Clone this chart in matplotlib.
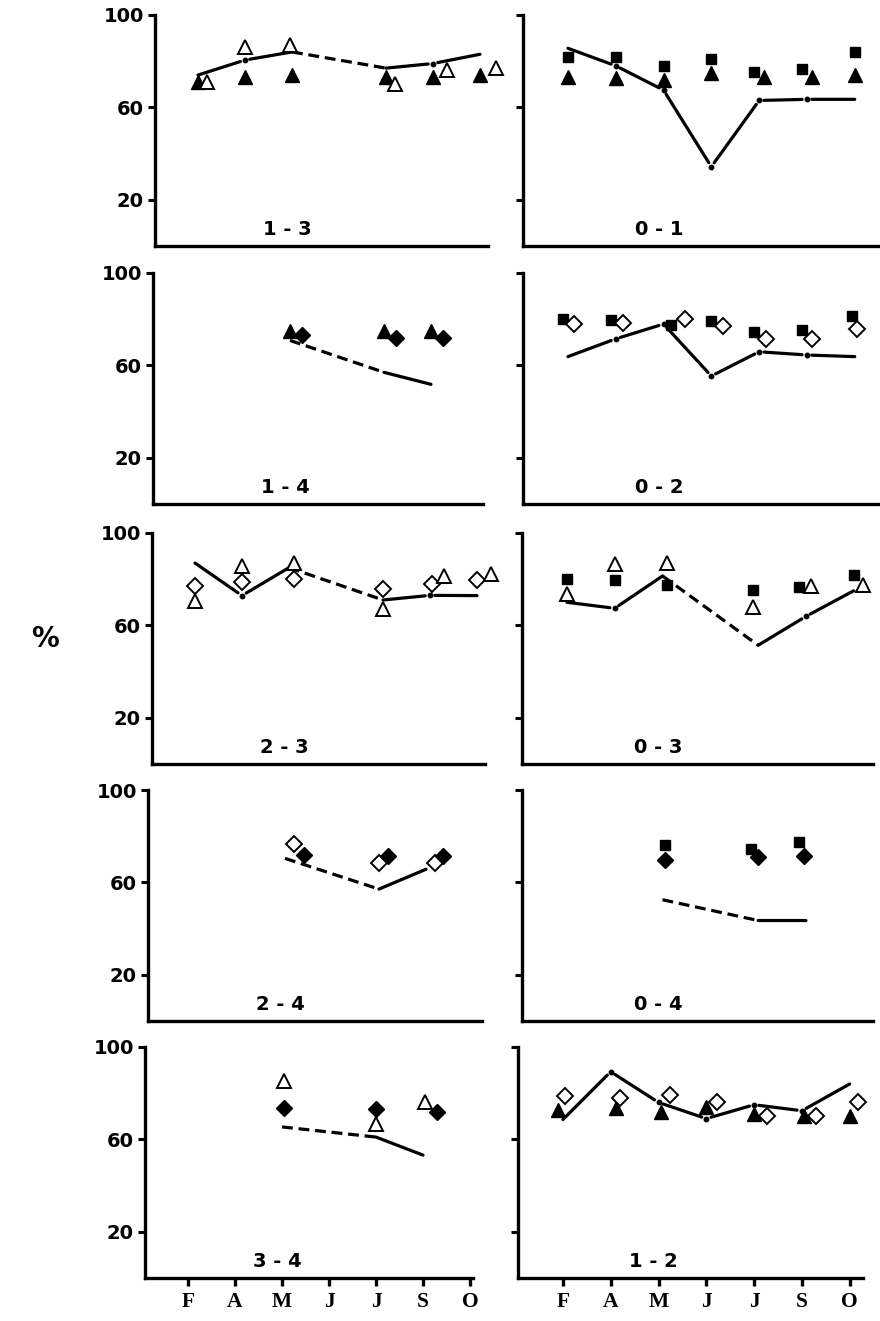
import numpy as np
import matplotlib.pyplot as plt

nan = np.nan
months = ['F', 'A', 'M', 'J', 'J', 'S', 'O']

# ---- 1 - 3 ----
l13 = [74, 80.5, 84, nan, 77, 79, 83]
seg13 = ['-', '-', '--', '-', '-']
ft13_x = [0, 1, 2, 4, 5, 6]
ft13_y = [71, 73, 74, 73, 73, 74]
ot13_x = [0.2, 1, 1.95, 4.2, 5.3, 6.35]
ot13_y = [71, 86, 87, 70, 76, 77]

# ---- 0 - 1 ----
l01 = [85.6, 78, 67.5, 34.3, 63, 63.5, 63.5]
seg01 = ['-', '-', '-', '-', '-', '-']
fs01_x = [0, 1, 2, 3, 3.9, 4.9, 6]
fs01_y = [82, 82, 78, 81, 75.5, 76.6, 84]
ft01_x = [0, 1, 2, 3, 4.1, 5.1, 6]
ft01_y = [73, 72.6, 72, 74.7, 73, 73.3, 74]

# ---- 1 - 4 ----
l14 = [nan, nan, 70.8, nan, 57, 51.8, nan]
seg14 = ['--', '-']
ft14_x = [2, 4, 5]
ft14_y = [75, 75, 75]
fd14_x = [2.25, 4.25, 5.25]
fd14_y = [73, 72, 72]

# ---- 0 - 2 ----
l02 = [63.8, 71.5, 77.9, 55.4, 65.9, 64.5, 63.8]
seg02 = ['-', '-', '-', '-', '-', '-']
fs02_x = [-0.1, 0.9, 2.15, 3.0, 3.9, 4.9, 5.95]
fs02_y = [80, 79.7, 77.6, 79.3, 74.6, 75.5, 81.4]
od02_x = [0.12, 1.15, 2.45, 3.25, 4.15, 5.1, 6.05]
od02_y = [77.9, 78.3, 80, 77.2, 71.3, 71.5, 75.8]

# ---- 2 - 3 ----
l23 = [87, 72.9, 85, nan, 71, 73, 72.9]
seg23 = ['-', '-', '--', '-', '-']
od23_x = [0, 1, 2.1, 4, 5.05, 6]
od23_y = [77, 78.6, 80, 75.7, 77.9, 79.6]
ot23_x = [0, 1, 2.1, 4, 5.3, 6.3]
ot23_y = [70.7, 85.7, 87, 67, 81.4, 82.4]

# ---- 0 - 3 ----
l03 = [70, 67.4, 81.4, nan, 51.4, 63.9, 75]
seg03 = ['-', '-', '--', '-', '-']
fs03_x = [0, 1, 2.1, 3.9, 4.85, 6]
fs03_y = [80, 79.6, 77.6, 75.3, 76.7, 81.9]
ot03_x = [0, 1, 2.1, 3.9, 5.1, 6.2]
ot03_y = [73.6, 86.4, 87, 68, 77, 77.6]

# ---- 2 - 4 ----
l24 = [nan, nan, 70.4, nan, 57.1, 65.7, nan]
seg24 = ['--', '-']
od24_x = [2.2, 4.0, 5.2]
od24_y = [76.7, 68.6, 68.6]
fd24_x = [2.4, 4.2, 5.37]
fd24_y = [72, 71.4, 71.4]

# ---- 0 - 4 ----
l04 = [nan, nan, 52.5, nan, 43.5, 43.5, nan]
seg04 = ['--', '-']
fs04_x = [2.05, 3.85, 4.85]
fs04_y = [76.2, 74.5, 77.3]
fd04_x = [2.05, 4.0, 4.95]
fd04_y = [69.5, 70.9, 71.3]

# ---- 3 - 4 ----
l34 = [nan, nan, 65.4, nan, 61, 53.2, nan]
seg34 = ['--', '-']
ot34_x = [2.05, 4.0, 5.05]
ot34_y = [85.4, 66.5, 76]
fd34_x = [2.05, 4.0, 5.3]
fd34_y = [73.5, 73, 72]

# ---- 1 - 2 ----
l12 = [68.6, 89.3, 76, 69, 75, 72.4, 84]
seg12 = ['-', '-', '-', '-', '-', '-']
ft12_x = [-0.1, 1.1, 2.05, 3.0, 4.0, 5.05, 6.0]
ft12_y = [72.9, 73.6, 71.9, 73.9, 71, 70, 70]
od12_x = [0.05, 1.2, 2.25, 3.23, 4.27, 5.3, 6.18]
od12_y = [78.6, 77.9, 79.3, 76, 70, 70, 76.4]

MARK = {
    'ft': dict(marker='^', mfc='black', mec='black', ms=9.5, mew=1.0),
    'ot': dict(marker='^', mfc='white', mec='black', ms=9.5, mew=1.4),
    'fs': dict(marker='s', mfc='black', mec='black', ms=7.5, mew=1.0),
    'od': dict(marker='D', mfc='white', mec='black', ms=8, mew=1.4),
    'fd': dict(marker='D', mfc='black', mec='black', ms=8, mew=1.0),
}

panels = [
    (0, 0, '1 - 3', l13, seg13, [('ft', ft13_x, ft13_y), ('ot', ot13_x, ot13_y)]),
    (0, 1, '0 - 1', l01, seg01, [('fs', fs01_x, fs01_y), ('ft', ft01_x, ft01_y)]),
    (1, 0, '1 - 4', l14, seg14, [('ft', ft14_x, ft14_y), ('fd', fd14_x, fd14_y)]),
    (1, 1, '0 - 2', l02, seg02, [('fs', fs02_x, fs02_y), ('od', od02_x, od02_y)]),
    (2, 0, '2 - 3', l23, seg23, [('od', od23_x, od23_y), ('ot', ot23_x, ot23_y)]),
    (2, 1, '0 - 3', l03, seg03, [('fs', fs03_x, fs03_y), ('ot', ot03_x, ot03_y)]),
    (3, 0, '2 - 4', l24, seg24, [('od', od24_x, od24_y), ('fd', fd24_x, fd24_y)]),
    (3, 1, '0 - 4', l04, seg04, [('fs', fs04_x, fs04_y), ('fd', fd04_x, fd04_y)]),
    (4, 0, '3 - 4', l34, seg34, [('ot', ot34_x, ot34_y), ('fd', fd34_x, fd34_y)]),
    (4, 1, '1 - 2', l12, seg12, [('ft', ft12_x, ft12_y), ('od', od12_x, od12_y)]),
]

W, H = 880, 1321
left_px = [[155, 523], [153, 523], [152, 522], [148, 522], [145, 518]]
width_px = [[333, 357], [330, 357], [333, 351], [334, 351], [328, 345]]
bottom_px = [246, 504, 764, 1021, 1278]
height_px = 231
step_px = [47.0, 47.8]
x0 = [-0.915, -0.94]

fig = plt.figure(figsize=(W / 100, H / 100), dpi=100)
LW = 2.3


def draw_line(ax, vals, segs):
    pts = [(i, v) for i, v in enumerate(vals) if not np.isnan(v)]
    n = len(pts)
    # a vertex gets a dot and small gaps when both neighbouring segments are solid
    dot = [False] * n
    for k in range(1, n - 1):
        if segs[k - 1] == '-' and segs[k] == '-':
            dot[k] = True
    for k in range(n - 1):
        ls = '-' if segs[k] == '-' else (0, (3.4, 1.8))
        ax.annotate('', xy=pts[k + 1], xytext=pts[k],
                    arrowprops=dict(arrowstyle='-', lw=LW, linestyle=ls,
                                    capstyle='round' if segs[k] == '-' else 'butt',
                                    shrinkA=3.5 if dot[k] else 0,
                                    shrinkB=3.5 if dot[k + 1] else 0,
                                    color='black'))
    for k in range(n):
        if dot[k]:
            ax.plot(pts[k][0], pts[k][1], 'o', color='black', ms=3.2, zorder=3)


for r, c, name, line, segs, series in panels:
    lp = left_px[r][c]
    wp = width_px[r][c]
    ax = fig.add_axes([lp / W, 1 - bottom_px[r] / H, wp / W, height_px / H])
    ax.set_xlim(x0[c], x0[c] + wp / step_px[c])
    ax.set_ylim(0, 100)
    for s in ['top', 'right']:
        ax.spines[s].set_visible(False)
    for s in ['left', 'bottom']:
        ax.spines[s].set_linewidth(2.4)
    ax.set_yticks([20, 60, 100])
    ax.tick_params(axis='y', direction='out', length=5, width=2.2, pad=3)
    if c == 0:
        ax.set_yticklabels(['20', '60', '100'], fontsize=14, fontweight='bold',
                           family='DejaVu Sans')
    else:
        ax.set_yticklabels([])
    if r == 4:
        ax.set_xticks(range(len(months)))
        ax.set_xticklabels(months, fontsize=15.5, fontweight='bold',
                           family='Liberation Serif')
        ax.tick_params(axis='x', direction='out', length=6, width=2.4, pad=4)
    else:
        ax.set_xticks([])

    draw_line(ax, line, segs)
    for key, xs, ys in series:
        ax.plot(xs, ys, linestyle='none', zorder=4, clip_on=False, **MARK[key])

    ax.text(1.9, 7, name, fontsize=14, fontweight='bold', family='DejaVu Sans',
            ha='center', va='center')

fig.text(0.051, 0.516, '%', fontsize=20, fontweight='bold', family='DejaVu Sans',
         ha='center', va='center')

fig.savefig('out.png', dpi=100)
